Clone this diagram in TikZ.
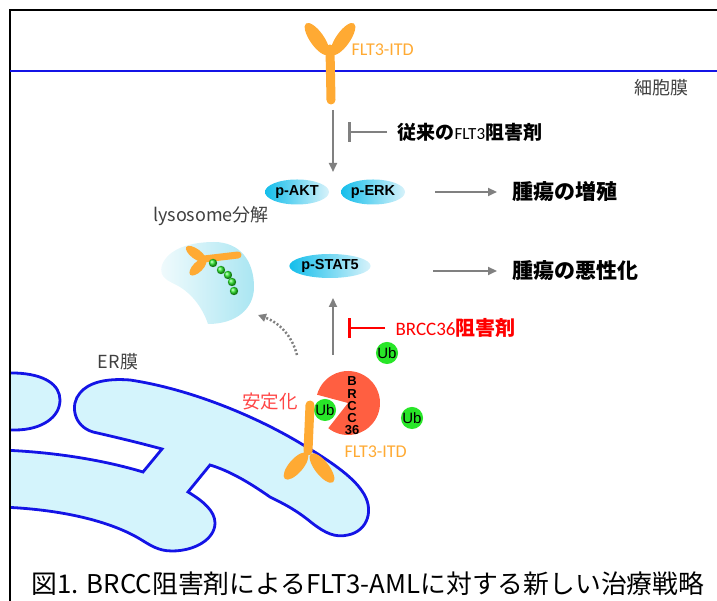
\documentclass[tikz,border=0pt]{standalone}
\usepackage{fontspec}
\usepackage{tikz}
\usetikzlibrary{arrows.meta,shapes.geometric}
\setmainfont{Noto Sans CJK JP}
\newfontfamily\arialfont{Liberation Sans}
\newfontfamily\calibfont{Carlito}

\definecolor{arrowgray}{RGB}{128,128,128}
\definecolor{membblue}{RGB}{20,20,230}
\definecolor{erfill}{RGB}{212,244,252}
\definecolor{flto}{RGB}{255,170,51}
\definecolor{brccred}{RGB}{255,95,65}
\definecolor{ubgreen}{RGB}{40,230,40}
\definecolor{kinL}{RGB}{20,190,235}
\definecolor{kinR}{RGB}{215,242,250}
\definecolor{lysoL}{RGB}{242,251,253}
\definecolor{lysoR}{RGB}{170,230,242}
\definecolor{stabred}{RGB}{255,70,70}
\definecolor{textgray}{RGB}{64,64,64}

\begin{document}
\begin{tikzpicture}[x=1pt,y=1pt,
    grayarrow/.style={draw=arrowgray, line width=2pt, -{Triangle[length=9pt,width=8pt]}},
    blocker/.style={line width=2.5pt, -{Bar[width=20pt]}},
    kinase/.style={ellipse, minimum width=64pt, minimum height=25pt, inner sep=0pt,
        left color=kinL, right color=kinR, font=\fontsize{14.5}{14.5}\selectfont\arialfont\bfseries},
    ub/.style={circle, fill=ubgreen, minimum size=20pt, inner sep=0pt,
        font=\fontsize{15}{15}\selectfont\arialfont},
    erline/.style={draw=membblue, line width=2.8pt, fill=erfill},
    note/.style={text=textgray, font=\fontsize{18}{18}\selectfont},
    result/.style={anchor=west, font=\fontsize{21}{21}\selectfont\bfseries}]
    \useasboundingbox (0,0) rectangle (717,601);

    % ER membrane, cut off at the frame
    \begin{scope}
        \clip (10,0) rectangle (717,601);
        \draw[erline] (0,228) -- (15,228) .. controls (45,227) and (60,216) .. (60,201)
            .. controls (60,184) and (42,171) .. (15,171) -- (0,171) -- cycle;
        \draw[erline] (0,151) .. controls (60,149) and (110,139) .. (143,129)
            -- (162,152) .. controls (140,158) and (115,164) .. (93,169)
            .. controls (73,175) and (70,197) .. (80,208)
            .. controls (88,218) and (105,223) .. (130,221)
            .. controls (190,212) and (255,185) .. (300,158)
            .. controls (330,140) and (352,125) .. (362,110)
            .. controls (375,92) and (368,70) .. (348,66)
            .. controls (335,63) and (325,68) .. (312,78)
            .. controls (295,92) and (282,98) .. (270,104)
            .. controls (250,118) and (230,130) .. (210,136)
            -- (188,109) .. controls (203,100) and (215,90) .. (215,78)
            .. controls (215,62) and (195,50) .. (172,50)
            .. controls (158,50) and (150,56) .. (140,62)
            .. controls (110,80) and (60,92) .. (0,94) -- cycle;
    \end{scope}

    % frame and cell membrane
    \draw[line width=2pt] (10,0) -- (10,591) -- (717,591);
    \draw[membblue, line width=2.5pt] (10,530) -- (717,530);
    \node[note] (pm) at (661,513) {細胞膜};
    \node[note] (erm) at (118,239) {ER膜};

    % FLT3-ITD in the plasma membrane
    \fill[flto] (317,562) ellipse[x radius=19, y radius=7, rotate=-55];
    \fill[flto] (343,562) ellipse[x radius=19, y radius=7, rotate=55];
    \draw[flto, line width=9pt, line cap=round] (330,552) -- (331,501);
    \node[anchor=west, text=flto, font=\fontsize{18}{18}\selectfont\calibfont] (fltpm) at (348,551) {FLT3-ITD};

    % signalling below the receptor
    \coordinate (rcpt) at (333,491);
    \coordinate (kin top) at (333,429);
    \draw[grayarrow] (rcpt) -- (kin top);
    \node[kinase] (akt) at (297,409) {p-AKT};
    \node[kinase] (erk) at (373,409) {p-ERK};
    \node[kinase, minimum width=62pt, minimum height=24pt] (stat) at (330,335) {p-STAT5};

    % conventional inhibitor
    \coordinate (fltinh) at (387,469);
    \coordinate (fltbar) at (348,469);
    \draw[blocker, arrowgray] (fltinh) -- (fltbar);
    \node[anchor=west, font=\fontsize{19}{19}\selectfont\bfseries] (oldinh) at (394,469)
        {従来の{\calibfont\mdseries\fontsize{17}{17}\selectfont FLT3}阻害剤};

    % outcomes
    \node[result] (grow) at (509,409) {腫瘍の増殖};
    \node[result] (malig) at (509,330) {腫瘍の悪性化};
    \coordinate (erk out) at (435,409);
    \coordinate (stat out) at (433,330);
    \draw[grayarrow] (erk out) -- ([xshift=-12pt]grow.west);
    \draw[grayarrow] (stat out) -- ([xshift=-12pt]malig.west);

    % lysosome with the degraded receptor
    \node[note] (lysolbl) at (211,385) {lysosome分解};
    \shade[left color=lysoL, right color=lysoR] (162,336)
        .. controls (168,352) and (190,359) .. (214,359)
        .. controls (240,359) and (254,340) .. (254,314)
        .. controls (254,292) and (236,277) .. (208,277)
        .. controls (203,292) and (193,306) .. (180,314)
        .. controls (170,320) and (158,322) .. cycle;
    \fill[flto] (196,347) ellipse[x radius=12, y radius=5, rotate=-36];
    \fill[flto] (198,334) ellipse[x radius=11, y radius=5, rotate=45];
    \draw[flto, line width=7pt, line cap=round] (204,342) -- (238,346);
    \foreach \bx/\by in {213/338, 221/331, 228/326, 232/319, 234/310}
        \shade[ball color=ubgreen] (\bx,\by) circle[radius=4.2];
    \coordinate (lyso in) at (258,286);
    \coordinate (er out) at (297,246);
    \draw[arrowgray, line width=2.5pt, dash pattern=on 2pt off 2pt,
        -{Triangle[length=8pt,width=8pt]}] (er out) .. controls (292,265) and (280,278) .. (lyso in);

    % STAT5 activation from the ER
    \coordinate (er top) at (333,246);
    \coordinate (stat bot) at (333,303);
    \draw[grayarrow] (er top) -- (stat bot);

    % BRCC36 inhibitor
    \coordinate (brinh) at (385,273);
    \coordinate (brbar) at (348,273);
    \draw[blocker, red] (brinh) -- (brbar);
    \node[anchor=west, text=red, font=\fontsize{19}{19}\selectfont] (newinh) at (392,273)
        {{\calibfont BRCC36}{\fontsize{20}{20}\selectfont\bfseries 阻害剤}};

    % BRCC36 and ubiquitin
    \fill[brccred] (348,198) -- ++(232:32) arc[start angle=232, end angle=525, radius=32] -- cycle;
    \node[align=center, font=\fontsize{13}{12.3}\selectfont\arialfont\bfseries, inner sep=0pt]
        (brcc) at (352,195) {B\\R\\C\\C\\36};
    \node[ub] (ub1) at (387,248) {Ub};
    \node[ub] (ub2) at (412,183) {Ub};
    \node[ub, minimum size=22pt] (ub3) at (325,191) {Ub};

    % FLT3-ITD held in the ER membrane
    \fill[flto] (296,135) ellipse[x radius=17, y radius=7, rotate=49];
    \fill[flto] (322,133) ellipse[x radius=18, y radius=7, rotate=-52];
    \draw[flto, line width=9pt, line cap=round] (310,196) -- (308,150);
    \node[text=stabred, font=\fontsize{18.5}{18.5}\selectfont] (stab) at (270,199) {安定化};
    \node[anchor=west, text=flto, font=\fontsize{18}{18}\selectfont\calibfont] (flter) at (341,149) {FLT3-ITD};

    % caption
    \node[font=\fontsize{25.8}{25.8}\selectfont] (cap) at (368,17)
        {図1. BRCC阻害剤によるFLT3-AMLに対する新しい治療戦略};
\end{tikzpicture}
\end{document}
